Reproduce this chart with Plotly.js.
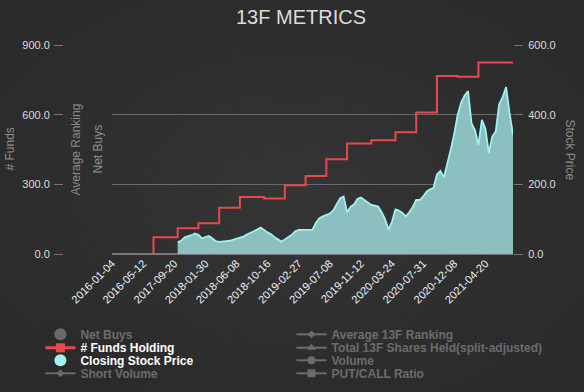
<!DOCTYPE html>
<html>
<head>
<meta charset="utf-8">
<script src="https://cdn.plot.ly/plotly-3.0.1.min.js"></script>
<style>
html,body{margin:0;padding:0;}
body{background:radial-gradient(ellipse at center,#353535 0%,#2c2c2c 70%,#2a2a2a 100%);width:584px;height:392px;overflow:hidden;}
#chart{width:584px;height:392px;}
</style>
</head>
<body>
<div id="chart"></div>
<script>
// category dates of the x axis
const dates = [
'2016-01-04','2016-01-19','2016-02-02','2016-02-16','2016-03-01','2016-03-15','2016-03-29','2016-04-12','2016-04-26',
'2016-05-12','2016-05-26','2016-06-10','2016-06-30','2016-07-14','2016-07-28','2016-08-11','2016-08-25','2016-09-09',
'2017-09-20','2017-09-29','2017-10-13','2017-10-27','2017-11-10','2017-11-27','2017-12-11','2017-12-29','2018-01-15',
'2018-01-30','2018-02-13','2018-02-28','2018-03-14','2018-03-29','2018-04-12','2018-04-26','2018-05-10','2018-05-24',
'2018-06-08','2018-06-29','2018-07-13','2018-07-27','2018-08-10','2018-08-24','2018-09-07','2018-09-21','2018-09-28',
'2018-10-16','2018-10-30','2018-11-13','2018-11-28','2018-12-12','2018-12-31','2019-01-15','2019-01-29','2019-02-12',
'2019-02-27','2019-03-13','2019-03-29','2019-04-12','2019-04-26','2019-05-10','2019-05-24','2019-06-10','2019-06-28',
'2019-07-08','2019-07-22','2019-08-05','2019-08-19','2019-09-04','2019-09-30','2019-10-10','2019-10-21','2019-10-31',
'2019-11-12','2019-11-26','2019-12-11','2019-12-31','2020-01-15','2020-01-29','2020-02-12','2020-02-27','2020-03-11',
'2020-03-24','2020-03-31','2020-04-15','2020-05-01','2020-05-18','2020-06-02','2020-06-16','2020-06-30','2020-07-15',
'2020-07-31','2020-08-14','2020-08-28','2020-09-14','2020-09-30','2020-10-14','2020-10-28','2020-11-11','2020-11-24',
'2020-12-08','2020-12-31','2021-01-15','2021-01-29','2021-02-12','2021-02-26','2021-03-12','2021-03-31','2021-04-07',
'2021-04-20','2021-05-04','2021-05-18','2021-06-02','2021-06-16','2021-06-30','2021-07-15','2021-07-29','2021-08-06'
];
const tickDates = ['2016-01-04','2016-05-12','2017-09-20','2018-01-30','2018-06-08','2018-10-16','2019-02-27',
'2019-07-08','2019-11-12','2020-03-24','2020-07-31','2020-12-08','2021-04-20'];

// Closing stock price (from 2017-09-29)
const priceDates = dates.slice(19);
const priceValues = [
34,38,48,50,54,59,55,45,48,52,
45,37,35,35,37,38,41,44,47,50,
56,60,65,70,76,68,62,57,48,42,
35,42,48,55,65,69,69,70,71,70,
90,103,108,112,116,125,141,160,165,120,
135,142,158,162,155,148,141,139,136,120,
100,70,93,128,125,118,108,120,135,155,
155,165,179,186,190,228,238,220,258,300,
345,400,435,455,468,375,356,313,385,360,
290,337,352,430,450,479,405,342
];

// # Funds holding (quarterly)
const fundDates = ['2016-01-04','2016-06-30','2017-09-29','2017-12-29','2018-03-29','2018-06-29','2018-09-28',
'2018-12-31','2019-03-29','2019-06-28','2019-09-30','2019-12-31','2020-03-31','2020-06-30','2020-09-30',
'2020-12-31','2021-03-31','2021-08-06'];
const fundValues = [0,72,111,132,199,245,239,296,336,408,476,490,524,609,767,763,825,825];

const leftTicks = [0,300,600,900];
const rightTicks = [0,200,400,600];

const F = 'Liberation Sans, Arial, Helvetica, sans-serif';
const RED = '#e8494e';
const CYAN = '#9ff3ee';
const GREY = '#aaaaaa';

const traces = [
  // data traces
  {type:'scatter', mode:'lines', x:fundDates, y:fundValues, line:{shape:'hv', color:RED, width:2},
   yaxis:'y', legendgroup:'funds', legend:'legend2', showlegend:false, hoverinfo:'x+y'},
  {type:'scatter', mode:'lines', x:priceDates, y:priceValues, fill:'tozeroy', fillcolor:'#8cc0c0',
   line:{color:CYAN, width:1.8}, yaxis:'y2', legendgroup:'price', legend:'legend3', showlegend:false},
  // legend entries
  {type:'scatter', mode:'markers', name:'Net Buys', x:[null], y:[null], visible:'legendonly',
   marker:{symbol:'circle', size:12, color:GREY}, legend:'legend'},
  {type:'scatter', mode:'lines+markers', name:'# Funds Holding', x:[null], y:[null],
   line:{color:RED, width:3}, marker:{symbol:'square', size:9, color:RED}, legendgroup:'funds', legend:'legend2'},
  {type:'scatter', mode:'markers', name:'Closing Stock Price', x:[null], y:[null],
   marker:{symbol:'circle', size:12, color:CYAN}, legendgroup:'price', legend:'legend3', yaxis:'y2'},
  {type:'scatter', mode:'lines+markers', name:'Short Volume', x:[null], y:[null], visible:'legendonly',
   line:{color:GREY, width:2}, marker:{symbol:'diamond', size:6, color:GREY}, legend:'legend4'},
  {type:'scatter', mode:'lines+markers', name:'Average 13F Ranking', x:[null], y:[null], visible:'legendonly',
   line:{color:GREY, width:2}, marker:{symbol:'diamond', size:6, color:GREY}, legend:'legend5'},
  {type:'scatter', mode:'lines+markers', name:'Total 13F Shares Held(split-adjusted)', x:[null], y:[null], visible:'legendonly',
   line:{color:GREY, width:2}, marker:{symbol:'triangle-up', size:8, color:GREY}, legend:'legend6'},
  {type:'scatter', mode:'lines+markers', name:'Volume', x:[null], y:[null], visible:'legendonly',
   line:{color:GREY, width:2}, marker:{symbol:'circle', size:8, color:GREY}, legend:'legend7'},
  {type:'scatter', mode:'lines+markers', name:'PUT/CALL Ratio', x:[null], y:[null], visible:'legendonly',
   line:{color:GREY, width:2}, marker:{symbol:'square', size:8, color:GREY}, legend:'legend8'}
];

function leg(px, py, color){
  return {xref:'container', yref:'container', x:px/584, y:1-py/392, xanchor:'left', yanchor:'middle',
    bgcolor:'rgba(0,0,0,0)', borderwidth:0, font:{family:F, size:12, color:color, weight:'bold'}};
}
const c1 = 40.4, c2 = 291.5;
const r = [334.3, 347.7, 360.3, 373.3];

const L = 63, R = 71, W = 584 - L - R;
function px2x(px){ return (px - L)/W; }

const layout = {
  width:584, height:392,
  paper_bgcolor:'rgba(0,0,0,0)', plot_bgcolor:'rgba(0,0,0,0)',
  margin:{l:L, r:R, t:45, b:138, autoexpand:false},
  font:{family:F, color:'#dddddd'},
  title:{text:'13F METRICS', x:301/584, xanchor:'center', xref:'container', y:1-17/392, yanchor:'middle', yref:'container',
         font:{family:F, size:20, color:'#dcdcdc'}},
  xaxis:{type:'category', categoryorder:'array', categoryarray:dates, range:[0, dates.length-1],
         domain:[px2x(112), 1], tickmode:'array', tickvals:tickDates, ticktext:tickDates,
         tickangle:-45, tickfont:{family:F, size:11, color:'#eef2f8'}, showgrid:false, zeroline:false,
         showline:false, ticks:''},
  yaxis:{range:[0,900], tickmode:'array', tickvals:leftTicks, tickformat:'.1f', anchor:'free', position:0,
         ticks:'outside', ticklen:9, tickcolor:'#777777', tickwidth:1,
         tickfont:{family:F, size:11, color:'#dddddd'}, showgrid:true, gridcolor:'#6a6a6a', gridwidth:1,
         zeroline:true, zerolinecolor:'#777777', zerolinewidth:1.5, showline:false, ticklabelstandoff:2},
  yaxis2:{range:[0,600], tickmode:'array', tickvals:rightTicks, tickformat:'.1f', overlaying:'y', side:'right', anchor:'x',
         ticks:'outside', ticklen:9, tickcolor:'#777777', tickwidth:1,
         tickfont:{family:F, size:11, color:'#dddddd'}, showgrid:false, zeroline:false, showline:false, ticklabelstandoff:3},
  annotations:[
    {text:'# Funds', xref:'paper', yref:'paper', x:px2x(9), y:0.5, textangle:-90, showarrow:false,
     font:{family:F, size:12, color:'#8f8f8f'}, xanchor:'center', yanchor:'middle'},
    {text:'Average Ranking', xref:'paper', yref:'paper', x:px2x(75), y:0.5, textangle:-90, showarrow:false,
     font:{family:F, size:12, color:'#8a8a8a'}, xanchor:'center', yanchor:'middle'},
    {text:'Net Buys', xref:'paper', yref:'paper', x:px2x(97), y:0.5, textangle:-90, showarrow:false,
     font:{family:F, size:12, color:'#8f8f8f'}, xanchor:'center', yanchor:'middle'},
    {text:'Stock Price', xref:'paper', yref:'paper', x:px2x(570), y:0.5, textangle:90, showarrow:false,
     font:{family:F, size:12, color:'#8f8f8f'}, xanchor:'center', yanchor:'middle'}
  ],
  legend:leg(c1, r[0], GREY),
  legend2:leg(c1, r[1], '#ffffff'),
  legend3:leg(c1, r[2], '#ffffff'),
  legend4:leg(c1, r[3], GREY),
  legend5:leg(c2, r[0], GREY),
  legend6:leg(c2, r[1], GREY),
  legend7:leg(c2, r[2], GREY),
  legend8:leg(c2, r[3], GREY),
  showlegend:true
};

Plotly.newPlot('chart', traces, layout, {displayModeBar:false});
</script>
</body>
</html>
